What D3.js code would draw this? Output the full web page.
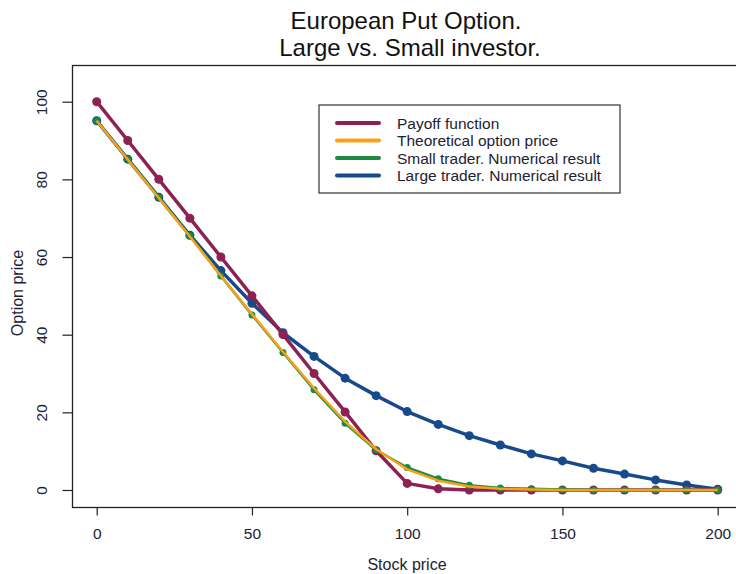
<!DOCTYPE html>
<html>
<head>
<meta charset="utf-8">
<script src="https://cdn.jsdelivr.net/npm/d3@7/dist/d3.min.js"></script>
<style>
  html, body { margin: 0; padding: 0; background: #ffffff; }
  svg { display: block; font-family: "Liberation Sans", Arial, sans-serif; }
</style>
</head>
<body>
<div id="chart"></div>
<script>
const STOCK = [0, 10, 20, 30, 40, 50, 60, 70, 80, 90, 100, 110, 120, 130, 140, 150, 160, 170, 180, 190, 200];

const PAYOFF = [100, 90, 80, 70, 60, 50, 40, 30, 20.1, 10.1, 1.7, 0.3, 0, 0, 0, 0, 0, 0, 0, 0, 0];
const THEORETICAL = [95.1, 85.1, 75.2, 65.3, 55.2, 45.3, 35.6, 26.2, 17.6, 10.5, 5.3, 2.4, 0.9, 0.3, 0.1, 0, 0, 0, 0, 0, 0];
const SMALL = [95.1, 85.2, 75.4, 65.5, 55.1, 45.1, 35.4, 25.8, 17.2, 10.3, 5.8, 2.9, 1.2, 0.5, 0.3, 0.1, 0, 0, 0, 0, 0];
const LARGE = [95.1, 85.2, 75.4, 65.6, 56.5, 48.1, 40.5, 34.4, 28.8, 24.3, 20.2, 16.9, 14.0, 11.6, 9.3, 7.5, 5.6, 4.1, 2.6, 1.3, 0.2];

const X_TICKS = [0, 50, 100, 150, 200];
const Y_TICKS = [0, 20, 40, 60, 80, 100];

const SERIES = [
  { label: "Large trader. Numerical result", values: LARGE, color: "#174a8a", width: 3.5, r: 4.5 },
  { label: "Payoff function", values: PAYOFF, color: "#8c2152", width: 3.5, r: 4.5 },
  { label: "Small trader. Numerical result", values: SMALL, color: "#1c8a3f", width: 2.5, r: 3.5 },
  { label: "Theoretical option price", values: THEORETICAL, color: "#f7a11a", width: 2.5, r: 0 },
];

const LEGEND_ORDER = [
  "Payoff function",
  "Theoretical option price",
  "Small trader. Numerical result",
  "Large trader. Numerical result",
];

const width = 736;
const height = 574;
const box = { left: 72.5, top: 65.5, right: 741, bottom: 507.5 };

const svg = d3
  .select("#chart")
  .append("svg")
  .attr("width", width)
  .attr("height", height);

const xScale = d3.scaleLinear().domain([0, 200]).range([96.7, 717.7]);
const yScale = d3.scaleLinear().domain([0, 100]).range([490, 101.7]);

// plot frame (right side runs past the picture edge)
svg
  .append("rect")
  .attr("x", box.left)
  .attr("y", box.top)
  .attr("width", box.right - box.left)
  .attr("height", box.bottom - box.top)
  .attr("fill", "none")
  .attr("stroke", "#222")
  .attr("stroke-width", 1.3);

const xAxis = svg
  .append("g")
  .attr("transform", `translate(0,${box.bottom})`)
  .call(d3.axisBottom(xScale).tickValues(X_TICKS).tickSize(8).tickPadding(12));
xAxis.select(".domain").remove();
xAxis.selectAll("line").attr("stroke", "#222").attr("stroke-width", 1.2);
xAxis
  .selectAll("text")
  .attr("font-size", 15.5)
  .attr("fill", "#1d2233")
  .attr("font-family", "Liberation Sans, Arial, sans-serif");

const yAxis = svg
  .append("g")
  .attr("transform", `translate(${box.left},0)`)
  .call(d3.axisLeft(yScale).tickValues(Y_TICKS).tickSize(10).tickFormat(d3.format("d")));
yAxis.select(".domain").remove();
yAxis.selectAll("line").attr("stroke", "#222").attr("stroke-width", 1.2);
yAxis
  .selectAll("text")
  .attr("font-size", 15.5)
  .attr("fill", "#1d2233")
  .attr("font-family", "Liberation Sans, Arial, sans-serif")
  .attr("text-anchor", "middle")
  .attr("dy", null)
  .attr("x", null)
  .attr("transform", "translate(-31,0) rotate(-90)")
  .attr("dominant-baseline", "central");

// titles
svg
  .append("text")
  .attr("x", 406)
  .attr("y", 29)
  .attr("text-anchor", "middle")
  .attr("font-size", 24)
  .attr("fill", "#111")
  .text("European Put Option.");

svg
  .append("text")
  .attr("x", 410)
  .attr("y", 56)
  .attr("text-anchor", "middle")
  .attr("font-size", 24)
  .attr("fill", "#111")
  .text("Large vs. Small investor.");

svg
  .append("text")
  .attr("x", 407)
  .attr("y", 570)
  .attr("text-anchor", "middle")
  .attr("font-size", 16)
  .attr("fill", "#1d2233")
  .text("Stock price");

svg
  .append("text")
  .attr("transform", "translate(23,293) rotate(-90)")
  .attr("text-anchor", "middle")
  .attr("font-size", 16)
  .attr("fill", "#1d2233")
  .text("Option price");

const line = d3
  .line()
  .x((d, i) => xScale(STOCK[i]))
  .y((d) => yScale(d));

SERIES.forEach((series) => {
  svg
    .append("path")
    .datum(series.values)
    .attr("fill", "none")
    .attr("stroke", series.color)
    .attr("stroke-width", series.width)
    .attr("stroke-linejoin", "round")
    .attr("d", line);

  if (series.r > 0) {
    svg
      .append("g")
      .selectAll("circle")
      .data(series.values)
      .join("circle")
      .attr("cx", (d, i) => xScale(STOCK[i]))
      .attr("cy", (d) => yScale(d))
      .attr("r", series.r)
      .attr("fill", series.color);
  }
});

// legend
const legend = svg.append("g").attr("transform", "translate(319,105)");
legend
  .append("rect")
  .attr("width", 301)
  .attr("height", 88)
  .attr("fill", "#fff")
  .attr("stroke", "#333")
  .attr("stroke-width", 1.2);

LEGEND_ORDER.forEach((label, index) => {
  const series = SERIES.find((s) => s.label === label);
  const row = legend.append("g").attr("transform", `translate(0,${18 + index * 17.5})`);
  row
    .append("line")
    .attr("x1", 18)
    .attr("x2", 60)
    .attr("stroke", series.color)
    .attr("stroke-width", 4)
    .attr("stroke-linecap", "round");
  row
    .append("text")
    .attr("x", 78)
    .attr("y", 5.5)
    .attr("font-size", 15.5)
    .attr("fill", "#1d2233")
    .text(label);
});
</script>
</body>
</html>
